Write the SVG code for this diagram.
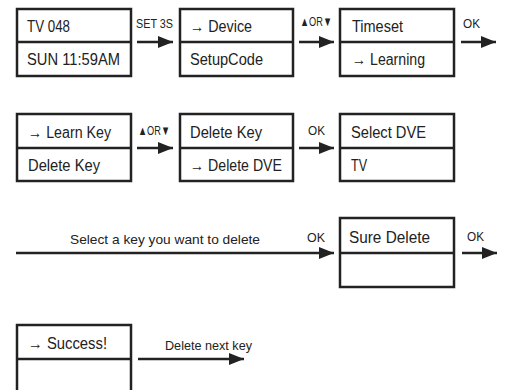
<svg xmlns="http://www.w3.org/2000/svg" width="505" height="390" viewBox="0 0 505 390">
<style>
.box{fill:#fff;stroke:#222;stroke-width:2.5}
.div{stroke:#222;stroke-width:2.5}
.t{font-family:"Liberation Sans",Arial,sans-serif;font-size:16px;fill:#222}
.s{font-family:"Liberation Sans",Arial,sans-serif;font-size:13px;fill:#222}
.c{stroke:#222;stroke-width:2.5;fill:none;marker-end:url(#ah)}
</style>
<defs>
<marker id="ah" markerUnits="userSpaceOnUse" markerWidth="16" markerHeight="13" refX="15" refY="6.5" orient="auto">
<path d="M0,0.5 L15,6.5 L0,12.5 z" fill="#222"/>
</marker>
</defs>
<g id="n1"><rect class="box" x="17" y="9" width="114" height="67"/><line class="div" x1="17" y1="42" x2="131" y2="42"/><text class="t" x="27" y="32" textLength="43" lengthAdjust="spacingAndGlyphs">TV 048</text><text class="t" x="27" y="65" textLength="93" lengthAdjust="spacingAndGlyphs">SUN 11:59AM</text></g>
<g id="n2"><rect class="box" x="180" y="9" width="113" height="67"/><line class="div" x1="180" y1="42" x2="293" y2="42"/><text class="t" x="190" y="32" textLength="62" lengthAdjust="spacingAndGlyphs">→ Device</text><text class="t" x="190" y="65" textLength="73" lengthAdjust="spacingAndGlyphs">SetupCode</text></g>
<g id="n3"><rect class="box" x="340" y="9" width="114" height="67"/><line class="div" x1="340" y1="42" x2="454" y2="42"/><text class="t" x="352" y="32" textLength="51" lengthAdjust="spacingAndGlyphs">Timeset</text><text class="t" x="352" y="65" textLength="73" lengthAdjust="spacingAndGlyphs">→ Learning</text></g>
<g id="n4"><rect class="box" x="17" y="114" width="114" height="67"/><line class="div" x1="17" y1="148" x2="131" y2="148"/><text class="t" x="28" y="138" textLength="83" lengthAdjust="spacingAndGlyphs">→ Learn Key</text><text class="t" x="28" y="171" textLength="72" lengthAdjust="spacingAndGlyphs">Delete Key</text></g>
<g id="n5"><rect class="box" x="180" y="114" width="113" height="67"/><line class="div" x1="180" y1="148" x2="293" y2="148"/><text class="t" x="190" y="138" textLength="72" lengthAdjust="spacingAndGlyphs">Delete Key</text><text class="t" x="190" y="171" textLength="92" lengthAdjust="spacingAndGlyphs">→ Delete DVE</text></g>
<g id="n6"><rect class="box" x="340" y="114" width="114" height="67"/><line class="div" x1="340" y1="148" x2="454" y2="148"/><text class="t" x="351" y="138" textLength="75" lengthAdjust="spacingAndGlyphs">Select DVE</text><text class="t" x="351" y="171" textLength="16" lengthAdjust="spacingAndGlyphs">TV</text></g>
<g id="n7"><rect class="box" x="340" y="218" width="114" height="69"/><line class="div" x1="340" y1="253" x2="454" y2="253"/><text class="t" x="349" y="243" textLength="81" lengthAdjust="spacingAndGlyphs">Sure Delete</text></g>
<g id="n8"><rect class="box" x="17" y="325" width="114" height="80"/><line class="div" x1="17" y1="359" x2="131" y2="359"/><text class="t" x="28" y="349" textLength="79" lengthAdjust="spacingAndGlyphs">→ Success!</text></g>
<g id="connectors">
<line class="c" x1="137" y1="42" x2="173" y2="42"/>
<line class="c" x1="299" y1="42" x2="334" y2="42"/>
<line class="c" x1="461" y1="42" x2="496" y2="42"/>
<line class="c" x1="137" y1="148" x2="173" y2="148"/>
<line class="c" x1="299" y1="148" x2="334" y2="148"/>
<line class="c" x1="16" y1="253" x2="334" y2="253"/>
<line class="c" x1="462" y1="253" x2="497" y2="253"/>
<line class="c" x1="138" y1="359" x2="244" y2="359"/>
<text class="s" x="136" y="28" textLength="37" lengthAdjust="spacingAndGlyphs">SET 3S</text>
<text class="s" x="300" y="26" textLength="32" lengthAdjust="spacingAndGlyphs">▲OR▼</text>
<text class="s" x="463" y="28" textLength="17" lengthAdjust="spacingAndGlyphs">OK</text>
<text class="s" x="138" y="135" textLength="32" lengthAdjust="spacingAndGlyphs">▲OR▼</text>
<text class="s" x="308" y="135" textLength="17" lengthAdjust="spacingAndGlyphs">OK</text>
<text class="s" x="70" y="244" textLength="190" lengthAdjust="spacingAndGlyphs">Select a key you want to delete</text>
<text class="s" x="307" y="242" textLength="18" lengthAdjust="spacingAndGlyphs">OK</text>
<text class="s" x="467" y="241" textLength="17" lengthAdjust="spacingAndGlyphs">OK</text>
<text class="s" x="165" y="350" textLength="87" lengthAdjust="spacingAndGlyphs">Delete next key</text>
</g>
</svg>
